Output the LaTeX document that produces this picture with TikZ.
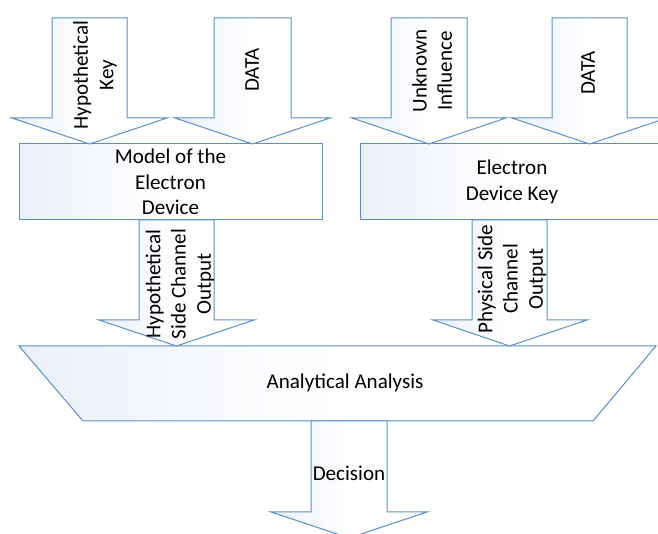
\documentclass[tikz,border=0pt]{standalone}
\usepackage{fontspec}
\setmainfont{Carlito}
\definecolor{edgeblue}{HTML}{5A8FCB}
\definecolor{tint}{HTML}{EAF0F9}
\newcommand\blockarrow[8]{%
  \path[blk] (#1,#3) -- (#2,#3) -- (#2,#4) -- (#6,#4) -- (#7,#8) -- (#5,#4) -- (#1,#4) -- cycle;}
\begin{document}
\begin{tikzpicture}[x=0.75pt,y=-0.75pt,
  blk/.style={draw=edgeblue, line width=0.75pt, left color=tint, right color=white, middle color=white},
  lbl/.style={font=\fontsize{15.8}{19}\selectfont, align=center, text=black, inner sep=0pt},
  vlbl/.style={lbl, rotate=90},
  boxst/.style={blk, rectangle, minimum width=#1, minimum height=57pt, inner sep=0pt, lbl}]
\useasboundingbox (0,0) rectangle (658,534);
\clip (0,0) rectangle (658,534);
% boxes
\node[boxst=227.25pt] (model) at (170.5,182) {Model of the\\Electron\\Device};
\node[boxst=228pt] (device) at (512,182) {Electron\\Device Key};
% input arrows
\blockarrow{52}{127}{18}{118}{12}{167}{89.5}{144}
\blockarrow{214}{291}{18}{118}{175}{330}{252.5}{144}
\blockarrow{391}{467}{18}{118}{352}{506}{429}{144}
\blockarrow{552}{627}{18}{118}{512}{667}{589.5}{144}
% analysis trapezoid
\path[blk] (19,346) -- (656,346) -- (593,421) -- (83,421) -- cycle;
\node[lbl] (analysis) at (345,383) {Analytical Analysis};
% output arrows
\blockarrow{139}{214}{220}{320}{99}{254}{176.5}{346}
\blockarrow{472}{547}{220}{320}{433}{587}{509.5}{346}
\blockarrow{311}{387}{421}{512}{271}{427}{349}{538}
% labels
\node[vlbl] (hk) at (95,75) {Hypothetical\\Key};
\node[vlbl] (d1) at (252,70) {DATA};
\node[vlbl] (ui) at (432,71) {Unknown\\Influence};
\node[vlbl] (d2) at (588,73) {DATA};
\node[vlbl] (hsc) at (180,284) {Hypothetical\\Side Channel\\Output};
\node[vlbl] (psc) at (512,279) {Physical Side\\Channel\\Output};
\node[lbl] (dec) at (349,473) {Decision};
\end{tikzpicture}
\end{document}
